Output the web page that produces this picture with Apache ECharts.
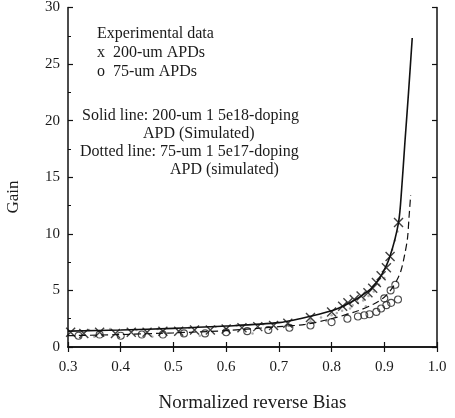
<!DOCTYPE html>
<html>
  <head>
    <meta charset="utf-8" />
    <title>Gain vs bias</title>
    <script src="https://cdnjs.cloudflare.com/ajax/libs/echarts/6.0.0/echarts.min.js"></script>
  </head>
  <body>
    <style>
      html, body { width: 100%; margin: 0; padding: 0; background: #fff; }
      #main { width: 455px; height: 418px; }
    </style>
    <div id="main"></div>
    <script type="text/javascript">
      // simulated curves
      var solidLine = [
        [0.3, 1.4], [0.4, 1.5], [0.5, 1.65], [0.6, 1.85], [0.7, 2.15], [0.74, 2.5],
        [0.8, 3.2], [0.83, 3.8], [0.856, 4.5], [0.878, 5.3], [0.894, 6.3], [0.91, 7.9],
        [0.927, 11.0], [0.933, 14], [0.939, 18], [0.946, 22.5], [0.953, 27.3]
      ];
      var dashedLine = [
        [0.3, 1.0], [0.4, 1.1], [0.5, 1.25], [0.6, 1.45], [0.7, 1.8], [0.75, 2.0],
        [0.8, 2.5], [0.85, 3.2], [0.88, 3.8], [0.9, 4.4], [0.915, 5.2], [0.925, 6.0],
        [0.932, 6.8], [0.938, 8.0], [0.944, 9.6], [0.947, 11.5], [0.95, 13.4]
      ];
      // experimental data
      var apd200 = [
        [0.305, 1.3], [0.33, 1.2], [0.36, 1.3], [0.39, 1.2], [0.42, 1.3], [0.45, 1.3],
        [0.48, 1.4], [0.51, 1.4], [0.54, 1.5], [0.57, 1.5], [0.6, 1.6], [0.63, 1.7],
        [0.66, 1.8], [0.69, 1.9], [0.717, 2.1], [0.76, 2.6], [0.8, 3.1], [0.821, 3.6],
        [0.831, 3.9], [0.843, 4.2], [0.856, 4.5], [0.869, 4.8], [0.878, 5.2], [0.885, 5.7],
        [0.894, 6.3], [0.904, 7.0], [0.911, 8.0], [0.927, 11.0]
      ];
      var apd75 = [
        [0.32, 1.0], [0.36, 1.1], [0.4, 1.0], [0.44, 1.1], [0.48, 1.1], [0.52, 1.2],
        [0.56, 1.2], [0.6, 1.3], [0.64, 1.4], [0.68, 1.5], [0.72, 1.7], [0.76, 1.9],
        [0.8, 2.2], [0.83, 2.5], [0.85, 2.7], [0.862, 2.8], [0.872, 2.9], [0.885, 3.1],
        [0.894, 3.4], [0.904, 3.7], [0.913, 3.9], [0.926, 4.2], [0.9, 4.3], [0.912, 5.0],
        [0.921, 5.5]
      ];
      // faint stipple around the knee and along the low band
      var stipple = [
        [0.76, 2.4], [0.78, 2.6], [0.8, 2.8], [0.81, 3.0], [0.82, 3.2], [0.835, 3.4],
        [0.84, 3.7], [0.85, 3.9], [0.86, 4.1], [0.87, 4.5], [0.88, 4.9], [0.89, 5.5],
        [0.9, 6.1], [0.905, 7.2], [0.915, 8.6], [0.92, 9.4], [0.925, 10.2], [0.79, 2.3],
        [0.83, 2.9], [0.865, 3.6], [0.34, 1.5], [0.38, 1.6], [0.43, 1.5], [0.47, 1.6],
        [0.53, 1.7], [0.58, 1.8], [0.62, 1.9], [0.67, 2.0], [0.35, 0.9], [0.46, 0.9],
        [0.55, 1.0], [0.65, 1.2]
      ];
      var xTicks = [0.3, 1.0, 0.1];
      var yTicks = [0, 30, 5];
      var notes = [
        { text: 'Experimental data', x: 97, y: 35 },
        { text: 'x  200-um APDs', x: 97, y: 54 },
        { text: 'o  75-um APDs', x: 97, y: 73 },
        { text: 'Solid line: 200-um 1 5e18-doping', x: 82, y: 117 },
        { text: 'APD (Simulated)', x: 143, y: 135 },
        { text: 'Dotted line: 75-um 1 5e17-doping', x: 80, y: 153 },
        { text: 'APD (simulated)', x: 170, y: 171 }
      ];

      var FONT = '"Liberation Serif", "DejaVu Serif", serif';
      var myChart = echarts.init(document.getElementById('main'));

      var axisLine = { show: true, lineStyle: { color: '#111', width: 1.5 } };
      var tickIn = { show: true, inside: true, length: 5, lineStyle: { color: '#111', width: 1.2 } };

      var graphics = notes.map(function (n) {
        return {
          type: 'text', left: n.x, top: n.y - 9,
          style: { text: n.text, font: '16px ' + FONT, fill: '#1a1a1a' }
        };
      });
      graphics.push({
        type: 'text', x: 14, y: 197, rotation: Math.PI / 2,
        style: { text: 'Gain', font: '17px ' + FONT, fill: '#1a1a1a', align: 'center', verticalAlign: 'middle' }
      });

      var option = {
        animation: false,
        grid: { left: 68, right: 18, top: 6, bottom: 65 },
        graphic: graphics,
        xAxis: [
          {
            type: 'value', min: xTicks[0], max: xTicks[1], interval: xTicks[2],
            axisLine: axisLine, axisTick: tickIn, splitLine: { show: false },
            axisLabel: {
              margin: 13, fontFamily: FONT, fontSize: 15, color: '#1a1a1a',
              formatter: function (v) { return v.toFixed(1); }
            },
            name: 'Normalized reverse Bias', nameLocation: 'middle', nameGap: 47,
            nameTextStyle: { fontFamily: FONT, fontSize: 19, color: '#1a1a1a' }
          },
          {
            type: 'value', position: 'top', min: xTicks[0], max: xTicks[1], interval: xTicks[2],
            axisLine: axisLine, axisTick: tickIn, axisLabel: { show: false }, splitLine: { show: false }
          }
        ],
        yAxis: [
          {
            type: 'value', min: yTicks[0], max: yTicks[1], interval: yTicks[2],
            axisLine: axisLine, axisTick: tickIn, splitLine: { show: false },
            minorTick: { show: true, splitNumber: 2, length: 3, lineStyle: { color: '#111' } },
            axisLabel: { margin: 8, fontFamily: FONT, fontSize: 15, color: '#1a1a1a' }
          },
          {
            type: 'value', position: 'right', min: yTicks[0], max: yTicks[1], interval: yTicks[2],
            axisLine: axisLine, axisTick: tickIn, axisLabel: { show: false }, splitLine: { show: false }
          }
        ],
        series: [
          {
            type: 'scatter', data: stipple, symbol: 'circle', symbolSize: 2.5,
            itemStyle: { color: '#999' }
          },
          {
            type: 'scatter', data: apd75, symbol: 'circle', symbolSize: 7,
            itemStyle: { color: 'transparent', borderColor: '#222', borderWidth: 1.1 }
          },
          {
            type: 'scatter', data: apd200, symbolSize: 9,
            symbol: 'path://M0,0 L10,10 M10,0 L0,10',
            itemStyle: { color: 'transparent', borderColor: '#111', borderWidth: 1.4 }
          },
          {
            type: 'line', data: solidLine, showSymbol: false, smooth: 0.3,
            lineStyle: { color: '#111', width: 1.6 }
          },
          {
            type: 'line', data: dashedLine, showSymbol: false, smooth: 0.3,
            lineStyle: { color: '#111', width: 1.2, type: [7, 4] }
          }
        ]
      };

      myChart.setOption(option);
    </script>
  </body>
</html>
